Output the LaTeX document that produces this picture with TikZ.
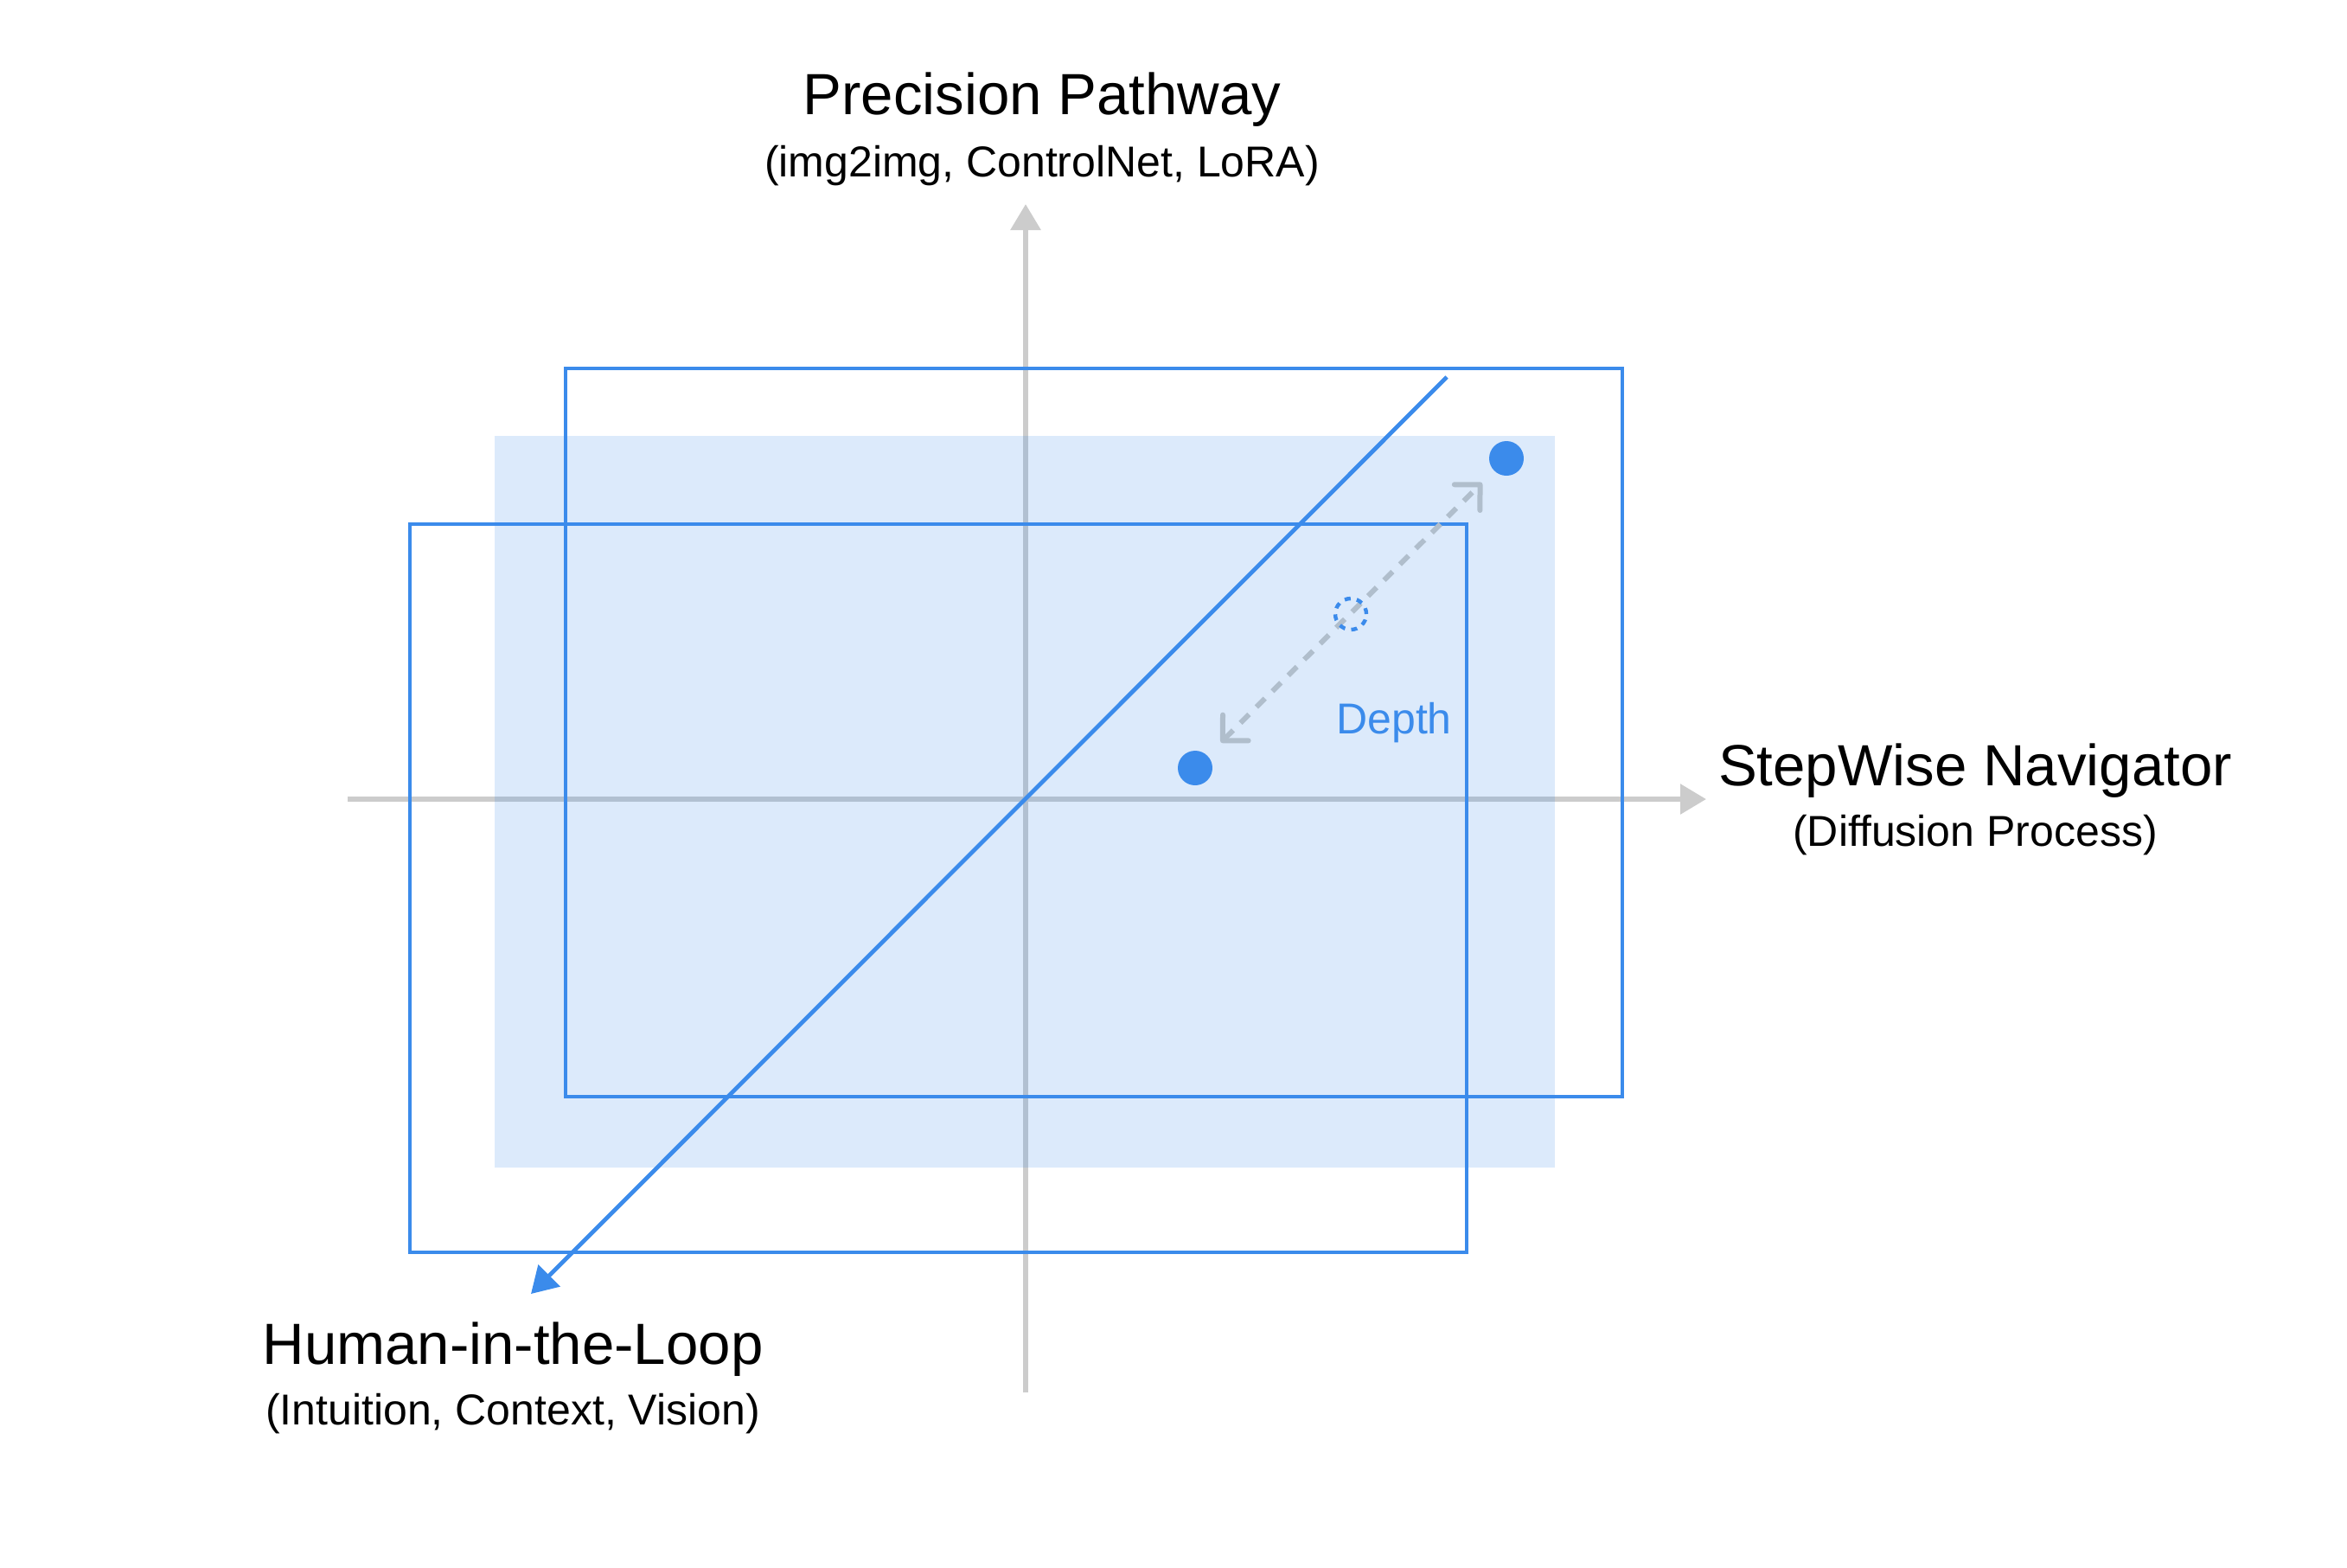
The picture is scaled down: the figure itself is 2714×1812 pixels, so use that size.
\documentclass[tikz,border=0pt]{standalone}
\usepackage{fontspec}
\setmainfont{Liberation Sans}
\usetikzlibrary{arrows.meta}
\definecolor{accent}{RGB}{59,139,235}
\definecolor{axisgray}{RGB}{204,204,204}
\definecolor{dashgray}{RGB}{176,190,204}
\begin{document}
\begin{tikzpicture}[x=0.5pt,y=-0.5pt,
  axisline/.style={draw=axisgray, line width=3pt, -{Triangle[length=15pt,width=17pt]}},
  frame/.style={draw=accent, line width=2pt},
  diagline/.style={draw=accent, line width=2.4pt, -{Triangle[length=15pt,width=17.5pt]}},
  titletext/.style={font=\fontsize{33.6}{40}\selectfont, anchor=base, inner sep=0pt},
  subtext/.style={font=\fontsize{25}{30}\selectfont, anchor=base, inner sep=0pt},
  depthtext/.style={font=\fontsize{25}{30}\selectfont, text=accent, anchor=base, inner sep=0pt},
  dotnode/.style={circle, fill=accent, minimum size=20pt, inner sep=0pt, outer sep=0pt},
  ghostnode/.style={circle, draw=accent, line width=2.2pt, dash pattern=on 3.5pt off 3.6pt, minimum size=18pt, inner sep=0pt, outer sep=0pt},
  depthline/.style={draw=dashgray, line width=3pt, dash pattern=on 7pt off 6pt,
    {Straight Barb[length=10.5pt,width=21pt,round,line width=3pt]}-{Straight Barb[length=10.5pt,width=21pt,round,line width=3pt]}}
]
\useasboundingbox (0,0) rectangle (2714,1812);

% axes
\coordinate (xleft) at (402,924);
\coordinate (xright) at (1973,924);
\coordinate (ybot) at (1186,1610);
\coordinate (ytop) at (1186,236);
\draw[axisline] (xleft) -- (xright);
\draw[axisline] (ybot) -- (ytop);

% translucent plane
\fill[accent, opacity=0.18] (572,504) rectangle (1798,1350);

% frames
\draw[frame] (654,426) rectangle (1876,1268);
\draw[frame] (474,606) rectangle (1696,1448);

% diagonal depth axis
\coordinate (dstart) at (1673,436);
\coordinate (dend) at (614,1496);
\draw[diagline] (dstart) -- (dend);

% points
\node[dotnode] (pA) at (1742,530) {};
\node[dotnode] (pB) at (1382,888) {};
\draw[depthline, shorten <=11pt, shorten >=10pt] (pB) -- (pA);
\node[ghostnode] (pM) at (1562,710) {};

% labels
\node[depthtext] (dlabel) at (1612,848) {Depth};
\node[titletext] (ttop) at (1205,132) {Precision Pathway};
\node[subtext] (stop) at (1205,204) {(img2img, ControlNet, LoRA)};
\node[titletext] (tright) at (2284,908) {StepWise Navigator};
\node[subtext] (sright) at (2284,978) {(Diffusion Process)};
\node[titletext] (tleft) at (593,1577) {Human-in-the-Loop};
\node[subtext] (sleft) at (593,1647) {(Intuition, Context, Vision)};
\end{tikzpicture}
\end{document}
